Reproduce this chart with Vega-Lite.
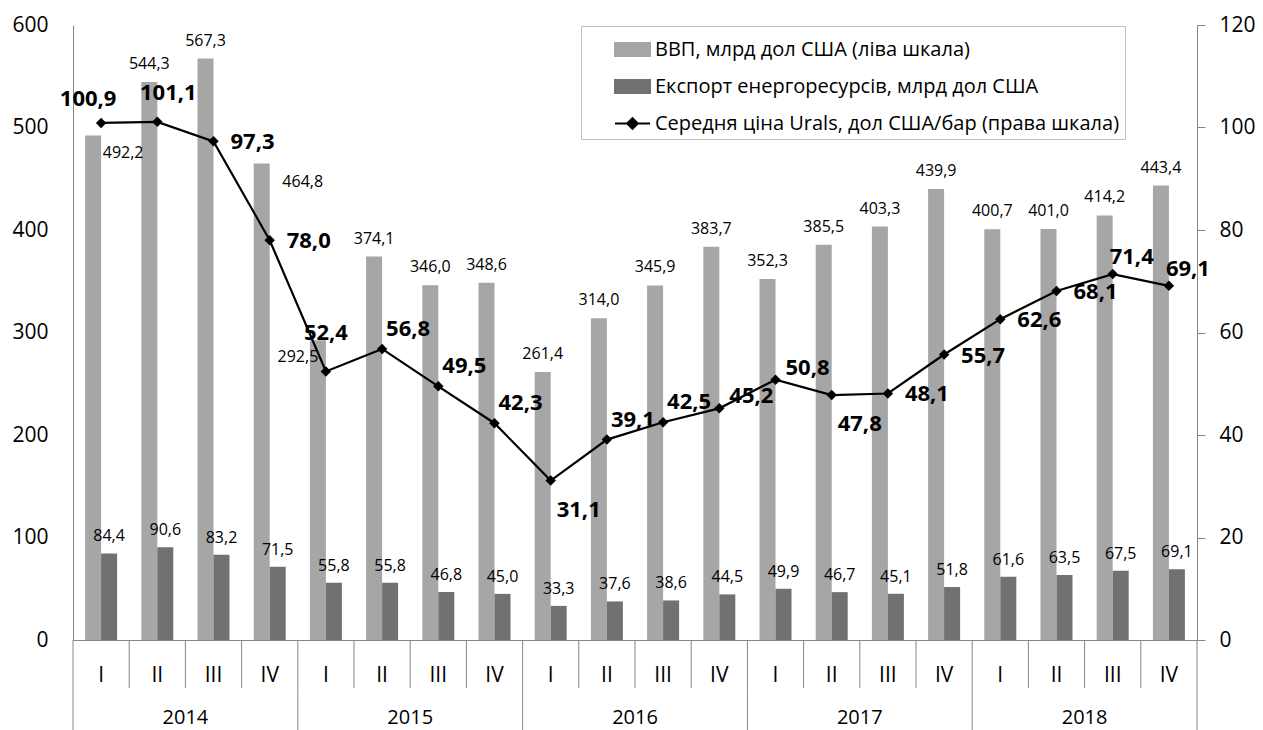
{
  "$schema": "https://vega.github.io/schema/vega-lite/v6.json",
  "width": 1124,
  "height": 615,
  "autosize": "none",
  "padding": {"left": 73, "top": 25, "right": 66, "bottom": 90},
  "config": {
    "locale": {"number": {"decimal": ",", "thousands": " ", "grouping": [3], "currency": ["", ""]}},
    "view": {"stroke": null},
    "font": "Open Sans",
    "axis": {"labelFont": "Open Sans", "labelFontSize": 21, "labelColor": "#000000", "domainColor": "#868686", "tickColor": "#868686", "grid": false},
    "text": {"font": "Open Sans", "color": "#000000"}
  },
  "data": {"values": [
    {"year": "2014", "q": "2014 I", "gdp": 492.2, "exp": 84.4, "urals": 100.9},
    {"year": "2014", "q": "2014 II", "gdp": 544.3, "exp": 90.6, "urals": 101.1},
    {"year": "2014", "q": "2014 III", "gdp": 567.3, "exp": 83.2, "urals": 97.3},
    {"year": "2014", "q": "2014 IV", "gdp": 464.8, "exp": 71.5, "urals": 78.0},
    {"year": "2015", "q": "2015 I", "gdp": 292.5, "exp": 55.8, "urals": 52.4},
    {"year": "2015", "q": "2015 II", "gdp": 374.1, "exp": 55.8, "urals": 56.8},
    {"year": "2015", "q": "2015 III", "gdp": 346.0, "exp": 46.8, "urals": 49.5},
    {"year": "2015", "q": "2015 IV", "gdp": 348.6, "exp": 45.0, "urals": 42.3},
    {"year": "2016", "q": "2016 I", "gdp": 261.4, "exp": 33.3, "urals": 31.1},
    {"year": "2016", "q": "2016 II", "gdp": 314.0, "exp": 37.6, "urals": 39.1},
    {"year": "2016", "q": "2016 III", "gdp": 345.9, "exp": 38.6, "urals": 42.5},
    {"year": "2016", "q": "2016 IV", "gdp": 383.7, "exp": 44.5, "urals": 45.2},
    {"year": "2017", "q": "2017 I", "gdp": 352.3, "exp": 49.9, "urals": 50.8},
    {"year": "2017", "q": "2017 II", "gdp": 385.5, "exp": 46.7, "urals": 47.8},
    {"year": "2017", "q": "2017 III", "gdp": 403.3, "exp": 45.1, "urals": 48.1},
    {"year": "2017", "q": "2017 IV", "gdp": 439.9, "exp": 51.8, "urals": 55.7},
    {"year": "2018", "q": "2018 I", "gdp": 400.7, "exp": 61.6, "urals": 62.6},
    {"year": "2018", "q": "2018 II", "gdp": 401.0, "exp": 63.5, "urals": 68.1},
    {"year": "2018", "q": "2018 III", "gdp": 414.2, "exp": 67.5, "urals": 71.4},
    {"year": "2018", "q": "2018 IV", "gdp": 443.4, "exp": 69.1, "urals": 69.1}
  ]},
  "encoding": {
    "x": {"field": "q", "type": "nominal", "sort": null, "title": null,
      "scale": {"type": "band", "paddingInner": 0, "paddingOuter": 0},
      "axis": {"labelExpr": "slice(datum.value, 5)", "labelAngle": 0, "ticks": false, "labelPadding": 24, "domain": true}}
  },
  "layer": [
    {
      "encoding": {
        "y": {"field": "gdp", "type": "quantitative", "title": null, "scale": {"domain": [0, 600]},
          "axis": {"values": [0, 100, 200, 300, 400, 500, 600], "ticks": false, "labelPadding": 25, "domain": true}}
      },
      "layer": [
        {
          "mark": {"type": "bar", "width": 16, "xOffset": -8},
          "encoding": {
            "color": {"datum": "ВВП, млрд дол США (ліва шкала)",
              "scale": {"domain": ["ВВП, млрд дол США (ліва шкала)", "Експорт енергоресурсів, млрд дол США", "Середня ціна Urals, дол США/бар (права шкала)"], "range": ["#A6A6A6", "#717171", "#000000"]},
              "legend": {
                "orient": "none", "legendX": 508, "legendY": 1, "title": null,
                "strokeColor": "#BFBFBF", "fillColor": "#FFFFFF", "padding": 5,
                "symbolOffset": 28, "symbolSize": 1225, "symbolType": "square",
                "labelFontSize": 20, "labelFont": "Open Sans", "labelColor": "#000000", "labelOffset": 4, "rowPadding": 8, "labelLimit": 800,
                "labelExpr": "datum.label + '\u00a0\u00a0\u00a0\u00a0\u00a0\u00a0\u00a0\u00a0\u00a0\u00a0\u00a0\u00a0\u00a0\u00a0\u00a0\u00a0\u00a0\u00a0'",
                "encode": {"symbols": {"update": {
                  "shape": {"signal": "indexof(datum.value, 'Urals') >= 0 ? 'M-1,0H1M-0.3,0L0,-0.3L0.3,0L0,0.3Z' : 'M-1,-0.37H1V0.37H-1Z'"},
                  "fill": {"signal": "indexof(datum.value, 'Urals') >= 0 ? '#000000' : (indexof(datum.value, 'ВВП') >= 0 ? '#A6A6A6' : '#717171')"},
                  "stroke": {"signal": "indexof(datum.value, 'Urals') >= 0 ? '#000000' : 'transparent'"},
                  "strokeWidth": {"value": 2},
                  "opacity": {"value": 1}
                }}}
              }}
          }
        },
        {
          "mark": {"type": "bar", "width": 16, "xOffset": 8},
          "encoding": {
            "y": {"field": "exp", "type": "quantitative", "title": null, "scale": {"domain": [0, 600]},
              "axis": {"values": [0, 100, 200, 300, 400, 500, 600], "ticks": false, "labelPadding": 25, "domain": true}},
            "color": {"datum": "Експорт енергоресурсів, млрд дол США"}
          }
        },
        {
          "transform": [{"filter": {"not": {"field": "q", "oneOf": ["2014 I", "2014 IV", "2015 I"]}}}],
          "mark": {"type": "text", "fontSize": 16, "baseline": "middle", "align": "center", "dx": -8, "dy": -18},
          "encoding": {"text": {"field": "gdp", "type": "quantitative", "format": ".1f"}}
        },
        {
          "transform": [{"filter": {"field": "q", "oneOf": ["2014 I"]}}],
          "mark": {"type": "text", "fontSize": 16, "baseline": "middle", "align": "center", "dx": 22, "dy": 18},
          "encoding": {"text": {"field": "gdp", "type": "quantitative", "format": ".1f"}}
        },
        {
          "transform": [{"filter": {"field": "q", "oneOf": ["2014 IV"]}}],
          "mark": {"type": "text", "fontSize": 16, "baseline": "middle", "align": "center", "dx": 33, "dy": 18},
          "encoding": {"text": {"field": "gdp", "type": "quantitative", "format": ".1f"}}
        },
        {
          "transform": [{"filter": {"field": "q", "oneOf": ["2015 I"]}}],
          "mark": {"type": "text", "fontSize": 16, "baseline": "middle", "align": "center", "dx": -28, "dy": 17},
          "encoding": {"text": {"field": "gdp", "type": "quantitative", "format": ".1f"}}
        },
        {
          "mark": {"type": "text", "fontSize": 16, "baseline": "middle", "align": "center", "dx": 8, "dy": -17},
          "encoding": {
            "y": {"field": "exp", "type": "quantitative", "title": null, "scale": {"domain": [0, 600]},
              "axis": {"values": [0, 100, 200, 300, 400, 500, 600], "ticks": false, "labelPadding": 25, "domain": true}},
            "text": {"field": "exp", "type": "quantitative", "format": ".1f"}
          }
        },
        {
          "mark": {"type": "rule", "color": "#868686", "strokeWidth": 1},
          "encoding": {
            "x": {"field": "q", "type": "nominal", "sort": null, "bandPosition": 0},
            "y": {"datum": 0},
            "y2": {"datum": -47}
          }
        },
        {
          "transform": [{"filter": {"field": "q", "oneOf": ["2014 I", "2015 I", "2016 I", "2017 I", "2018 I"]}}],
          "mark": {"type": "rule", "color": "#868686", "strokeWidth": 1},
          "encoding": {
            "x": {"field": "q", "type": "nominal", "sort": null, "bandPosition": 0},
            "y": {"datum": -47},
            "y2": {"datum": -100}
          }
        },
        {
          "transform": [{"filter": {"field": "q", "oneOf": ["2018 IV"]}}],
          "mark": {"type": "rule", "color": "#868686", "strokeWidth": 1},
          "encoding": {
            "x": {"field": "q", "type": "nominal", "sort": null, "bandPosition": 1},
            "y": {"datum": 0},
            "y2": {"datum": -100}
          }
        },
        {
          "transform": [{"filter": {"field": "q", "oneOf": ["2014 II", "2015 II", "2016 II", "2017 II", "2018 II"]}}],
          "mark": {"type": "text", "fontSize": 20, "baseline": "middle", "align": "center"},
          "encoding": {
            "x": {"field": "q", "type": "nominal", "sort": null, "bandPosition": 1},
            "y": {"datum": -76},
            "text": {"field": "year", "type": "nominal"}
          }
        }
      ]
    },
    {
      "encoding": {
        "y": {"field": "urals", "type": "quantitative", "title": null, "scale": {"domain": [0, 120]},
          "axis": {"orient": "right", "values": [0, 20, 40, 60, 80, 100, 120], "ticks": true, "tickSize": 8, "labelPadding": 14, "domain": true}}
      },
      "layer": [
        {
          "mark": {"type": "line", "strokeWidth": 2.2},
          "encoding": {"color": {"datum": "Середня ціна Urals, дол США/бар (права шкала)"}}
        },
        {
          "mark": {"type": "point", "shape": "diamond", "filled": true, "size": 110, "color": "#000000", "opacity": 1}
        },
        {
          "transform": [{"filter": {"field": "q", "oneOf": ["2014 III", "2014 IV", "2017 III", "2017 IV", "2018 I", "2018 II"]}}],
          "mark": {"type": "text", "fontSize": 22, "fontWeight": "bold", "baseline": "middle", "align": "center", "dx": 39, "dy": 1},
          "encoding": {"text": {"field": "urals", "type": "quantitative", "format": ".1f"}}
        },
        {
          "transform": [{"filter": {"field": "q", "oneOf": ["2015 II", "2015 III", "2015 IV", "2016 II", "2016 III"]}}],
          "mark": {"type": "text", "fontSize": 22, "fontWeight": "bold", "baseline": "middle", "align": "center", "dx": 26, "dy": -20},
          "encoding": {"text": {"field": "urals", "type": "quantitative", "format": ".1f"}}
        },
        {
          "transform": [{"filter": {"field": "q", "oneOf": ["2016 IV", "2017 I"]}}],
          "mark": {"type": "text", "fontSize": 22, "fontWeight": "bold", "baseline": "middle", "align": "center", "dx": 32, "dy": -12},
          "encoding": {"text": {"field": "urals", "type": "quantitative", "format": ".1f"}}
        },
        {
          "transform": [{"filter": {"field": "q", "oneOf": ["2018 III", "2018 IV"]}}],
          "mark": {"type": "text", "fontSize": 22, "fontWeight": "bold", "baseline": "middle", "align": "center", "dx": 19, "dy": -17},
          "encoding": {"text": {"field": "urals", "type": "quantitative", "format": ".1f"}}
        },
        {
          "transform": [{"filter": {"field": "q", "oneOf": ["2016 I", "2017 II"]}}],
          "mark": {"type": "text", "fontSize": 22, "fontWeight": "bold", "baseline": "middle", "align": "center", "dx": 28, "dy": 29},
          "encoding": {"text": {"field": "urals", "type": "quantitative", "format": ".1f"}}
        },
        {
          "transform": [{"filter": {"field": "q", "oneOf": ["2015 I"]}}],
          "mark": {"type": "text", "fontSize": 22, "fontWeight": "bold", "baseline": "middle", "align": "center", "dx": 0, "dy": -38},
          "encoding": {"text": {"field": "urals", "type": "quantitative", "format": ".1f"}}
        },
        {
          "transform": [{"filter": {"field": "q", "oneOf": ["2014 I"]}}],
          "mark": {"type": "text", "fontSize": 22, "fontWeight": "bold", "baseline": "middle", "align": "center", "dx": -13, "dy": -24},
          "encoding": {"text": {"field": "urals", "type": "quantitative", "format": ".1f"}}
        },
        {
          "transform": [{"filter": {"field": "q", "oneOf": ["2014 II"]}}],
          "mark": {"type": "text", "fontSize": 22, "fontWeight": "bold", "baseline": "middle", "align": "center", "dx": 11, "dy": -29},
          "encoding": {"text": {"field": "urals", "type": "quantitative", "format": ".1f"}}
        }
      ]
    }
  ],
  "resolve": {"scale": {"y": "independent"}, "axis": {"y": "independent"}}
}
